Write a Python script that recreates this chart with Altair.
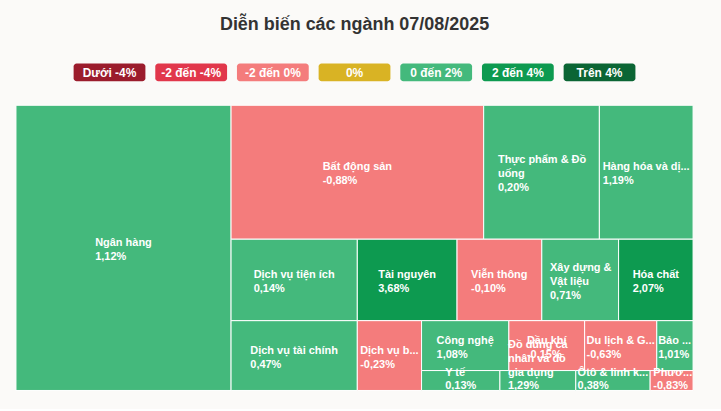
import math
import unicodedata
import altair as alt
import pandas as pd

# ---------------- data ----------------
title_text = "Diễn biến các ngành 07/08/2025"

legend_labels = ["Dưới -4%", "-2 đến -4%", "-2 đến 0%", "0%", "0 đến 2%", "2 đến 4%", "Trên 4%"]
legend_colors = ["#9b1c2c", "#e1374b", "#f47c7c", "#d9b324", "#44b97c", "#0d9a50", "#0b6534"]

sectors = [
    "Ngân hàng", "Bất động sản", "Thực phẩm & Đồ uống", "Hàng hóa và dịch vụ công nghiệp",
    "Dịch vụ tiện ích", "Dịch vụ tài chính", "Tài nguyên", "Viễn thông", "Xây dựng & Vật liệu",
    "Hóa chất", "Dịch vụ bán lẻ", "Công nghệ", "Dầu khí", "Du lịch & Giải trí", "Bảo hiểm",
    "Y tế", "Đồ dùng cá nhân và đồ gia dụng", "Ôtô & linh kiện", "Phương tiện truyền thông",
]
# label text as displayed in the cells (wrapped / shortened)
display_labels = [
    "Ngân hàng", "Bất động sản", "Thực phẩm & Đồ\nuống", "Hàng hóa và dị...",
    "Dịch vụ tiện ích", "Dịch vụ tài chính", "Tài nguyên", "Viễn thông", "Xây dựng &\nVật liệu",
    "Hóa chất", "Dịch vụ b...", "Công nghệ", "Dầu khí", "Du lịch & G...", "Bảo ...",
    "Y tế", "Đồ dùng cá\nnhân và đồ\ngia dụng", "Ôtô & linh k...", "Phươ...",
]
changes = [1.12, -0.88, 0.20, 1.19, 0.14, 0.47, 3.68, -0.10, 0.71, 2.07, -0.23, 1.08,
           -0.15, -0.63, 1.01, 0.13, 1.29, 0.38, -0.83]
sizes = [6169, 3402, 1558, 1262, 1034, 886, 817, 694, 629, 610, 451, 438,
         380, 362, 182, 157, 152, 149, 86]

# ---------------- helpers ----------------
W, H = 679, 286
LH = 14
FS = 11

ARIAL_BOLD = {
    " ": 278, "%": 889, "&": 722, ",": 278, "-": 333, ".": 278, "/": 278,
    "A": 722, "B": 722, "C": 722, "D": 722, "E": 667, "F": 611, "G": 778, "H": 722, "I": 278,
    "J": 556, "K": 722, "L": 611, "M": 833, "N": 722, "O": 778, "P": 667, "Q": 778, "R": 722,
    "S": 667, "T": 611, "U": 722, "V": 667, "W": 944, "X": 667, "Y": 667, "Z": 611,
    "a": 556, "b": 611, "c": 556, "d": 611, "e": 556, "f": 333, "g": 611, "h": 611, "i": 278,
    "j": 278, "k": 556, "l": 278, "m": 889, "n": 611, "o": 611, "p": 611, "q": 611, "r": 389,
    "s": 556, "t": 333, "u": 611, "v": 556, "w": 778, "x": 556, "y": 556, "z": 500,
}


def text_width(s, size):
    w = 0
    for ch in s:
        if ch == "Đ":
            base = "D"
        elif ch == "đ":
            base = "d"
        else:
            base = unicodedata.normalize("NFD", ch)[0]
        w += ARIAL_BOLD.get(base, 556)
    return w * size / 1000.0


def bucket(c):
    if c < -4:
        return legend_labels[0]
    if c < -2:
        return legend_labels[1]
    if c < 0:
        return legend_labels[2]
    if c == 0:
        return legend_labels[3]
    if c <= 2:
        return legend_labels[4]
    if c <= 4:
        return legend_labels[5]
    return legend_labels[6]


def ratio(a, b):
    if a is None or b is None or any(isinstance(v, float) and math.isnan(v) for v in (a, b)):
        return float("nan")
    if a == 0 or b == 0:
        return float("nan")
    return max(a / b, b / a)


def squarified(values, width, height):
    """Squarified treemap with alternating direction (Highcharts style)."""
    total = float(sum(values))
    areas = [width * height * v / total for v in values]
    out = []
    g = dict(width=width, height=height, direction=0, total=0.0, nW=0.0, lW=0.0,
             nH=0.0, lH=0.0, el=[], nR=float("nan"), lR=float("nan"))
    plot = {"x": 0.0, "y": 0.0}
    nan = float("nan")

    def add(el):
        lp_total = g["el"][-1] if g["el"] else nan
        g["total"] += el
        if g["direction"] == 0:
            g["lW"] = g["nW"]
            lh = lp_total / g["lW"] if g["lW"] else nan
            g["lR"] = ratio(g["lW"], lh)
            g["nW"] = g["total"] / g["height"]
            nh = lp_total / g["nW"]
            g["nR"] = ratio(g["nW"], nh)
        else:
            g["lH"] = g["nH"]
            lw = lp_total / g["lH"] if g["lH"] else nan
            g["lR"] = ratio(lw, g["lH"])
            g["nH"] = g["total"] / g["width"]
            nw = lp_total / g["nH"]
            g["nR"] = ratio(nw, g["nH"])
        g["el"].append(el)

    def calc(last):
        gW, gH = g["lW"], g["lH"]
        keep = None
        if last:
            gW, gH = g["nW"], g["nH"]
        else:
            keep = g["el"][-1]
        end = len(g["el"]) - 1
        for i, p in enumerate(g["el"]):
            if last or i < end:
                if g["direction"] == 0:
                    pw, ph = gW, p / gW
                else:
                    ph, pw = gH, p / gH
                out.append((plot["x"], plot["y"], plot["x"] + pw, plot["y"] + ph))
                if g["direction"] == 0:
                    plot["y"] += ph
                else:
                    plot["x"] += pw
        g["el"] = []
        g["total"] = 0.0
        g["nW"] = 0.0
        g["lW"] = 0.0
        if g["direction"] == 0:
            g["width"] -= gW
        else:
            g["height"] -= gH
        plot["y"] = height - g["height"]
        plot["x"] = width - g["width"]
        g["direction"] = 1 - g["direction"]
        if not last:
            add(keep)

    end = len(areas) - 1
    for i, a in enumerate(areas):
        add(a)
        if g["nR"] > g["lR"]:
            calc(False)
        if i == end:
            calc(True)
    return out


def fmt_pct(c):
    return f"{c:.2f}".replace(".", ",") + "%"


# ---------------- layout ----------------
cells = squarified(sizes, W, H)

rect_rows = []
text_rows = []
for name, lab, ch, (x0, y0, x1, y1) in zip(sectors, display_labels, changes, cells):
    rect_rows.append(dict(sector=name, change=fmt_pct(ch), bucket=bucket(ch),
                          x0=x0, x1=x1, y0=y0, y1=y1))
    lines = lab.split("\n") + [fmt_pct(ch)]
    n = len(lines)
    bw = max(text_width(s, FS) for s in lines)
    cx = (x0 + x1) / 2.0
    cy = (y0 + y1) / 2.0 + 1
    left = min(max(cx - bw / 2.0, 2), W - bw - 2)
    first = cy - (n - 1) * LH / 2.0
    first = min(first, H - 5 - (n - 1) * LH)
    first = max(first, 5)
    for k, s in enumerate(lines):
        text_rows.append(dict(sector=name, line=s, k=k, x=left, y=first + k * LH))

rect_df = pd.DataFrame(rect_rows)
text_df = pd.DataFrame(text_rows)
legend_df = pd.DataFrame({"label": legend_labels})

FONT = "Liberation Sans"

xs = alt.Scale(domain=[0, W], nice=False, zero=False)
ys = alt.Scale(domain=[0, H], nice=False, zero=False, reverse=True)
color_scale = alt.Scale(domain=legend_labels, range=legend_colors)

rects = alt.Chart(rect_df).mark_rect(stroke="white", strokeWidth=1).encode(
    x=alt.X("x0:Q", scale=xs, axis=None),
    x2="x1:Q",
    y=alt.Y("y0:Q", scale=ys, axis=None),
    y2="y1:Q",
    color=alt.Color("bucket:N", scale=color_scale, legend=None),
    tooltip=[alt.Tooltip("sector:N"), alt.Tooltip("change:N")],
)

labels = alt.Chart(text_df).mark_text(
    align="left", baseline="middle", font=FONT, fontSize=FS, fontWeight="bold",
    color="white", dy=1,
).encode(
    x=alt.X("x:Q", scale=xs, axis=None),
    y=alt.Y("y:Q", scale=ys, axis=None),
    text="line:N",
)

tree = alt.layer(rects, labels).properties(width=W, height=H)

lx = alt.X("label:N", sort=legend_labels,
           scale=alt.Scale(paddingInner=0.121, paddingOuter=0.706), axis=None)
leg_rect = alt.Chart(legend_df).mark_rect(cornerRadius=3).encode(
    x=lx,
    color=alt.Color("label:N", scale=color_scale, legend=None),
)
leg_text = alt.Chart(legend_df).mark_text(
    color="white", font=FONT, fontSize=12, fontWeight="bold", baseline="middle", dy=1,
).encode(x=lx, text="label:N")
legend = alt.layer(leg_rect, leg_text).properties(width=W, height=18)

chart = alt.vconcat(
    legend, tree, spacing=23,
    title=alt.Title(title_text, fontSize=18, fontWeight="bold", color="#333333",
                    font=FONT, anchor="middle", offset=29),
).resolve_scale(x="independent", y="independent").properties(
    padding={"left": 15, "right": 27, "top": 16, "bottom": 17},
    background="#fbfaf8",
).configure_view(stroke=None)

chart.save("out.html", embed_options={"renderer": "svg", "actions": False})
